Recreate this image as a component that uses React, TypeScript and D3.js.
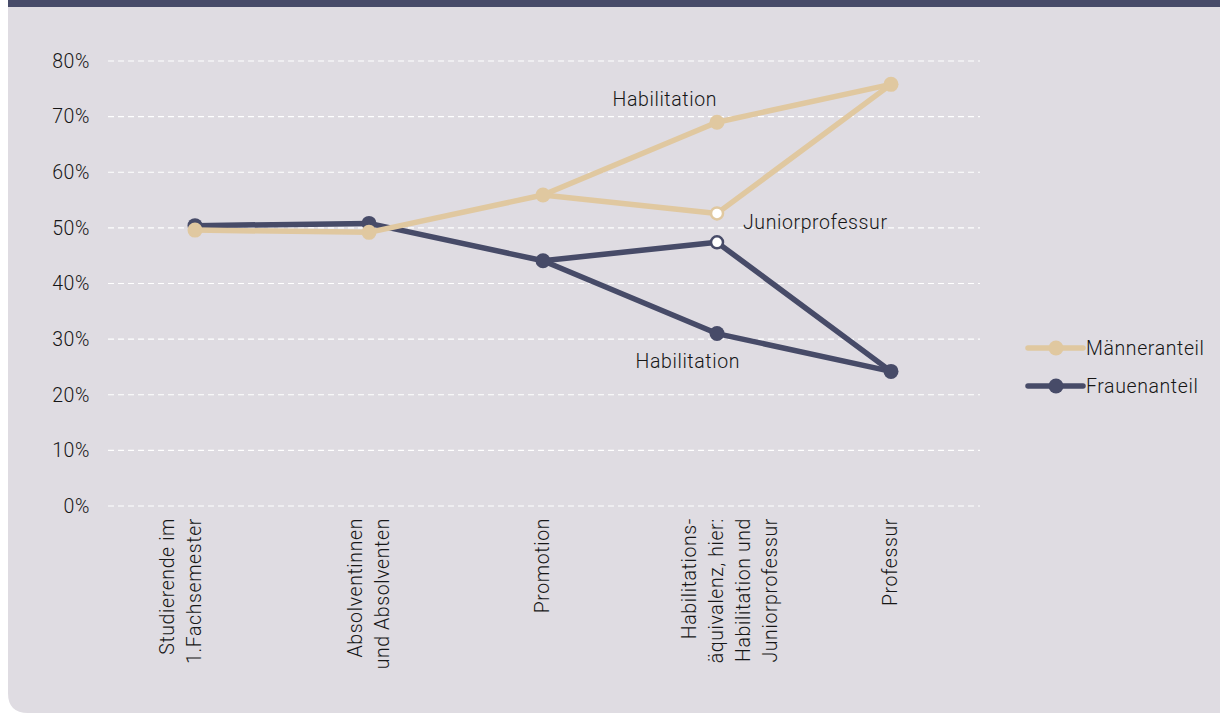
import React from "react";
import * as d3 from "d3";

// stations on the x axis
const categories = ["stud", "abs", "prom", "habil", "prof"];
const categoryLines = [
  ["Studierende im", "1.Fachsemester", ""],
  ["Absolventinnen", "und Absolventen"],
  ["Promotion"],
  ["", "Habilitations-", "äquivalenz, hier:", "Habilitation und", "Juniorprofessur"],
  ["Professur"],
];
const yTicks = [0, 0.1, 0.2, 0.3, 0.4, 0.5, 0.6, 0.7, 0.8];

// shares (path via Habilitation) and the Juniorprofessur branch value
const maenner = [0.496, 0.492, 0.559, 0.69, 0.758];
const maennerJunior = 0.526;
const frauen = [0.504, 0.508, 0.441, 0.31, 0.242];
const frauenJunior = 0.474;

const seriesNames = ["Männeranteil", "Frauenanteil"];
const seriesColors = ["#e0c8a0", "#474b68"];

const W = 1220;
const H = 713;
const FONT = "Roboto, 'Liberation Sans', Arial, sans-serif";
const textStyle = {
  fontSize: 19.5,
  fontWeight: 300,
  fill: "#161616",
  letterSpacing: 0.6,
};

export default function App() {
  const x = d3.scaleBand().domain(categories).range([108, 978]).padding(0);
  const cx = (c: string) => (x(c) as number) + x.bandwidth() / 2;
  const y = d3.scaleLinear().domain([0, 0.8]).range([506, 61]);

  const line = d3
    .line<[string, number]>()
    .x((d) => cx(d[0]))
    .y((d) => y(d[1]));

  const build = (vals: number[], junior: number) => {
    const main: [string, number][] = categories.map((c, i) => [c, vals[i]]);
    const branch: [string, number][] = [
      ["prom", vals[2]],
      ["habil", junior],
      ["prof", vals[4]],
    ];
    return { main, branch, junior };
  };
  const series = [build(maenner, maennerJunior), build(frauen, frauenJunior)];
  const order = [1, 0]; // Frauen drawn first, Männer on top

  return (
    <div style={{ position: "absolute", left: 0, top: 0 }}>
      <svg width={W} height={H} style={{ display: "block", fontFamily: FONT }}>
        <path d={`M8,0H${W}V${H}H28Q8,${H} 8,${H - 20}Z`} fill="#dfdce2" />
        <rect x={8} y={0} width={W - 8} height={7} fill="#474b69" />

        {/* grid + y labels */}
        {yTicks.map((t) => (
          <g key={t}>
            <line
              x1={108}
              x2={980}
              y1={y(t)}
              y2={y(t)}
              stroke="#ffffff"
              strokeWidth={1.2}
              strokeDasharray="6 4"
            />
            <text x={90} y={y(t)} dy="0.35em" textAnchor="end" style={textStyle}>
              {d3.format(".0%")(t)}
            </text>
          </g>
        ))}

        {/* x labels, rotated */}
        {categories.map((c, i) => {
          const lines = categoryLines[i];
          const lh = 27;
          const x0 = cx(c) - ((lines.length - 1) * lh) / 2;
          return (
            <g key={c}>
              {lines.map((l, j) => (
                <text
                  key={j}
                  transform={`translate(${x0 + j * lh + 6},518) rotate(-90)`}
                  textAnchor="end"
                  style={textStyle}
                >
                  {l}
                </text>
              ))}
            </g>
          );
        })}

        {/* lines */}
        {order.map((k) => {
          const s = series[k];
          const col = seriesColors[k];
          return (
            <g key={k}>
              <path d={line(s.main) || ""} fill="none" stroke={col} strokeWidth={5.5} strokeLinejoin="round" />
              <path d={line(s.branch) || ""} fill="none" stroke={col} strokeWidth={5.5} strokeLinejoin="round" />
              {s.main.map((d) => (
                <circle key={d[0]} cx={cx(d[0])} cy={y(d[1])} r={7.5} fill={col} />
              ))}
              <circle cx={cx("habil")} cy={y(s.junior)} r={6} fill="#ffffff" stroke={col} strokeWidth={2.5} />
            </g>
          );
        })}

        {/* annotations */}
        <text x={cx("habil")} y={y(maenner[3]) - 16} textAnchor="end" style={textStyle}>
          Habilitation
        </text>
        <text x={cx("habil") + 26} y={y(maennerJunior) + 16} style={textStyle}>
          Juniorprofessur
        </text>
        <text x={cx("habil") + 23} y={y(frauen[3]) + 34} textAnchor="end" style={textStyle}>
          Habilitation
        </text>

        {/* legend */}
        {seriesNames.map((n, i) => {
          const ly = 348 + i * 38;
          return (
            <g key={n}>
              <line x1={1028} x2={1083} y1={ly} y2={ly} stroke={seriesColors[i]} strokeWidth={5.5} strokeLinecap="round" />
              <circle cx={1056} cy={ly} r={7.5} fill={seriesColors[i]} />
              <text x={1086} y={ly} dy="0.35em" style={textStyle}>
                {n}
              </text>
            </g>
          );
        })}
      </svg>
    </div>
  );
}
